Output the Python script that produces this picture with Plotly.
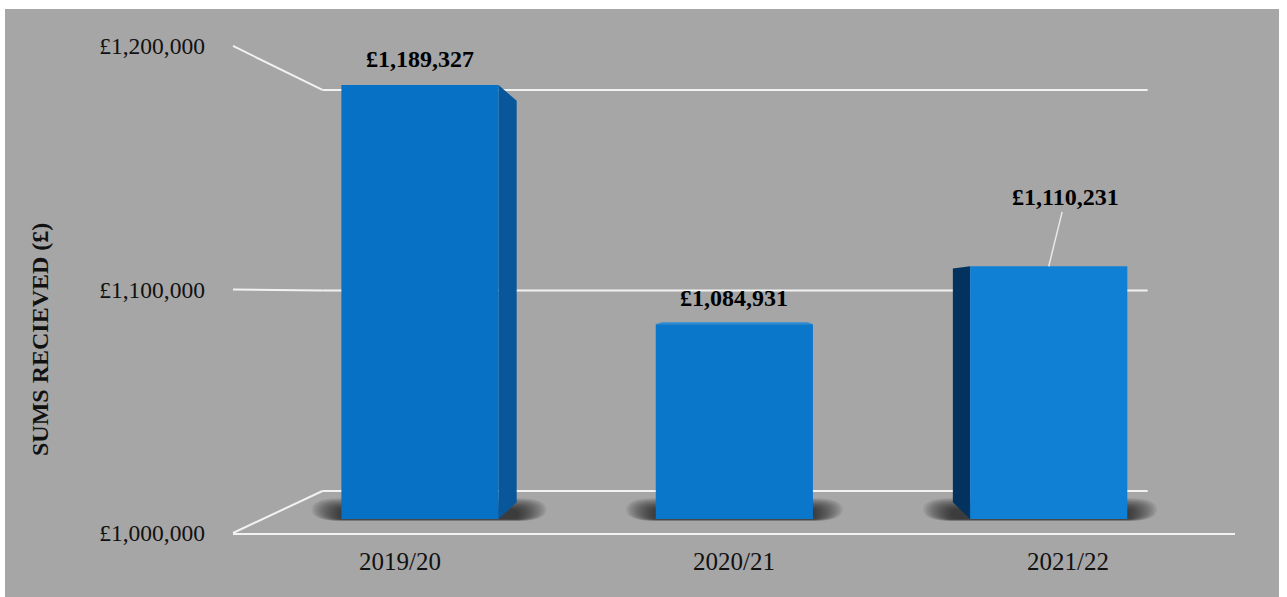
import plotly.graph_objects as go

# ---- data -------------------------------------------------------------
years = ["2019/20", "2020/21", "2021/22"]
sums_received = [1189327, 1084931, 1110231]
tick_values = [1000000, 1100000, 1200000]
axis_title = "SUMS RECIEVED (£)"

# ---- page geometry (pixels) -------------------------------------------
W, H = 1287, 597
BASE = 1000000
X_LEFT_PX, X_RIGHT_PX = 262.8, 1205.9     # bar plane: category -0.5 .. 2.5
Y_BASE_PX = 519.0                          # bar plane: value BASE
PX_PER_100K = 229.2
VANISH_PX = (740.0, 295.0)                 # perspective vanishing point
K_FRONT, K_BACK, K_DEPTH = -0.0625, 0.125, 0.075

cat_px = (X_RIGHT_PX - X_LEFT_PX) / 3.0
sy = PX_PER_100K / 100000.0


def px_to_data(px, py):
    return -0.5 + (px - X_LEFT_PX) / cat_px, BASE + (Y_BASE_PX - py) / sy


x_range = [px_to_data(0, 0)[0], px_to_data(W, 0)[0]]
y_range = [px_to_data(0, H)[1], px_to_data(0, 0)[1]]
VX, VY = px_to_data(*VANISH_PX)


def proj(x, y, k):
    """Move a point of the bar plane k of the way towards the vanishing point."""
    return x + k * (VX - x), y + k * (VY - y)


def to_paper_x(x):
    return (x - x_range[0]) / (x_range[1] - x_range[0])


def to_paper_y(y):
    return (y - y_range[0]) / (y_range[1] - y_range[0])


BG = "#a6a6a6"
GRID = "#f2f2f2"
FONT = "Liberation Serif"

shapes = []

# grey chart area
shapes.append(dict(type="rect", xref="paper", yref="paper",
                   x0=5 / W, x1=1279 / W, y0=0, y1=1 - 9 / H,
                   fillcolor=BG, line=dict(width=0), layer="below"))

# side wall and back wall gridlines
for v in tick_values:
    fx, fy = proj(-0.5, v, K_FRONT)
    bx, by = proj(-0.5, v, K_BACK)
    ex, ey = proj(2.5, v, K_BACK)
    shapes.append(dict(type="line", xref="x", yref="y", x0=fx, y0=fy, x1=bx, y1=by,
                       line=dict(color=GRID, width=2), layer="below"))
    shapes.append(dict(type="line", xref="x", yref="y", x0=bx, y0=by, x1=ex, y1=ey,
                       line=dict(color=GRID, width=2), layer="below"))


def rounded_rect(x0, x1, y0, y1, rx, ry):
    return (f"M {x0 + rx},{y0} L {x1 - rx},{y0} Q {x1},{y0} {x1},{y0 + ry} "
            f"L {x1},{y1 - ry} Q {x1},{y1} {x1 - rx},{y1} L {x0 + rx},{y1} "
            f"Q {x0},{y1} {x0},{y1 - ry} L {x0},{y0 + ry} Q {x0},{y0} {x0 + rx},{y0} Z")


half = 0.25
# soft floor shadows behind each bar, built from stacked translucent layers
for i, v in enumerate(sums_received):
    left, right = i - half, i + half
    bl = proj(left, BASE, K_DEPTH)[0]
    br = proj(right, BASE, K_DEPTH)[0]
    sx0, sx1 = min(left, bl), max(right, br)
    blur_x = 30 / cat_px
    n = 22
    for j in range(n):
        f = j / n
        ix = blur_x * (1 - f)
        top_px = 498 + 12 * f          # top edge fades downwards
        bot_px = 521 - 2 * f
        x0, x1 = sx0 - ix, sx1 + ix
        y0 = px_to_data(0, bot_px)[1]
        y1 = px_to_data(0, top_px)[1]
        rx = max(ix, 6 / cat_px)
        ry = (y1 - y0) / 2
        shapes.append(dict(type="path", xref="x", yref="y",
                           path=rounded_rect(x0, x1, y0, y1, rx, ry),
                           fillcolor="rgba(25,25,25,0.05)", line=dict(width=0),
                           layer="below"))

# side and top faces of the boxes (the front face is the bar itself)
for i, v in enumerate(sums_received):
    left, right = i - half, i + half
    faces = []
    if right < VX:
        faces.append(([(right, BASE), (right, v), proj(right, v, K_DEPTH),
                       proj(right, BASE, K_DEPTH)], "#08579b"))
    if left > VX:
        faces.append(([(left, BASE), (left, v), proj(left, v, K_DEPTH),
                       proj(left, BASE, K_DEPTH)], "#02325d"))
    if v < VY:
        faces.append(([(left, v), (right, v), proj(right, v, K_DEPTH),
                       proj(left, v, K_DEPTH)], "#2b8bd9"))
    for pts, col in faces:
        path = "M " + " L ".join(f"{px},{py}" for px, py in pts) + " Z"
        shapes.append(dict(type="path", xref="x", yref="y", path=path,
                           fillcolor=col, line=dict(width=0), layer="below"))

fig = go.Figure()
fig.add_trace(go.Bar(
    x=list(range(len(years))),
    y=[v - BASE for v in sums_received],
    base=BASE,
    width=2 * half,
    marker=dict(color=["#0771c6", "#0a77cb", "#0f80d4"], line=dict(width=0)),
    hoverinfo="skip",
    showlegend=False,
    xaxis="x", yaxis="y",
))
# invisible anchor so the front-plane axes are drawn
fig.add_trace(go.Scatter(
    x=list(range(len(years))), y=[BASE] * len(years),
    mode="markers", marker=dict(opacity=0), hoverinfo="skip",
    showlegend=False, xaxis="x2", yaxis="y2",
))

# value labels
annotations = []
for i, v in enumerate(sums_received):
    label = f"£{v:,}"
    if i == 2:
        annotations.append(dict(x=i, y=v, xref="x", yref="y", text=label,
                                showarrow=True, arrowhead=0, arrowwidth=1.5,
                                arrowcolor="#e8e8e8", ax=17, ay=-69, standoff=0,
                                font=dict(family=FONT, size=24, color="#000",
                                          weight="bold")))
    else:
        annotations.append(dict(x=i, y=v, xref="x", yref="y", text=label,
                                showarrow=False, yshift=26,
                                font=dict(family=FONT, size=24, color="#000",
                                          weight="bold")))

annotations.append(dict(x=40 / W, y=1 - 340 / H, xref="paper", yref="paper",
                        xanchor="center", yanchor="middle",
                        text=axis_title, textangle=-90, showarrow=False,
                        font=dict(family=FONT, size=24, color="#111",
                                  weight="bold")))

# front plane axes carry the tick labels and the floor edge
fx0, fy0 = proj(-0.5, BASE, K_FRONT)
fx1, _ = proj(2.5, BASE, K_FRONT)
_, fy1 = proj(-0.5, tick_values[-1], K_FRONT)

fig.update_layout(
    width=W, height=H,
    autosize=False,
    margin=dict(l=0, r=0, t=0, b=0, pad=0, autoexpand=False),
    paper_bgcolor="white",
    plot_bgcolor="rgba(0,0,0,0)",
    shapes=shapes,
    annotations=annotations,
    xaxis=dict(domain=[0, 1], range=x_range, visible=False, anchor="y",
               automargin=False),
    yaxis=dict(domain=[0, 1], range=y_range, visible=False, anchor="x",
               automargin=False),
    xaxis2=dict(domain=[to_paper_x(fx0), to_paper_x(fx1)], range=[-0.5, 2.5],
                anchor="y2", tickvals=list(range(len(years))), ticktext=years,
                showgrid=False, zeroline=False, showline=True,
                linecolor=GRID, linewidth=2, ticks="", automargin=False,
                ticklabelstandoff=5,
                tickfont=dict(family=FONT, size=25, color="#111")),
    yaxis2=dict(domain=[to_paper_y(fy0), to_paper_y(fy1)],
                range=[tick_values[0], tick_values[-1]], anchor="x2",
                tickvals=tick_values, ticktext=[f"£{t:,}" for t in tick_values],
                showgrid=False, zeroline=False, showline=False, ticks="",
                automargin=False, ticklabelstandoff=27,
                tickfont=dict(family=FONT, size=23.5, color="#111")),
)

fig.write_html("out.html")
